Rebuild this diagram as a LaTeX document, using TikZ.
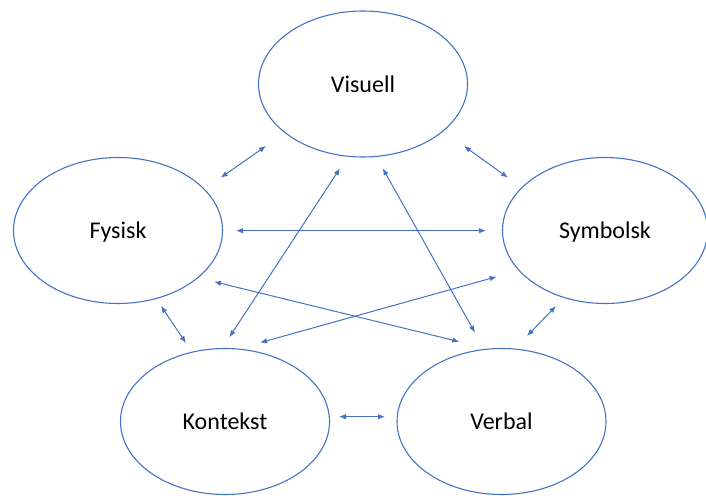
\documentclass[tikz,border=0pt]{standalone}
\usepackage{fontspec}
\setmainfont{Carlito}
\usetikzlibrary{arrows.meta,shapes.geometric}
\definecolor{ln}{HTML}{4472C4}
\tikzset{
  mode/.style={draw=ln, line width=1.1pt, ellipse, minimum width=209pt, minimum height=146pt,
    inner sep=0pt, text height=16pt, text depth=0pt, font=\fontsize{24}{28}\selectfont},
  arr/.style={draw=ln, line width=1pt, {Latex[length=7pt,width=5.5pt]}-{Latex[length=7pt,width=5.5pt]}},
}
\begin{document}
\begin{tikzpicture}[x=1pt,y=-1pt]
\useasboundingbox (0,0) rectangle (706,495);
\node[mode] (vis) at (363,84) {Visuell};
\node[mode] (fys) at (118,230.5) {Fysisk};
\node[mode, minimum width=205pt] (sym) at (605,230.5) {Symbolsk};
\node[mode] (kon) at (225,421.5) {Kontekst};
\node[mode] (ver) at (501.5,421.5) {Verbal};
% arrow end points
\coordinate (fv1) at (220.7,177.7); \coordinate (fv2) at (266,146);
\coordinate (vs1) at (464,146);     \coordinate (vs2) at (508,177.7);
\coordinate (kv1) at (229.3,337.3); \coordinate (kv2) at (340,168.3);
\coordinate (vb1) at (382.7,168.3); \coordinate (vb2) at (475,332.7);
\coordinate (fs1) at (236,230.7);   \coordinate (fs2) at (486,230.7);
\coordinate (fb1) at (214,281.7);   \coordinate (fb2) at (459.3,341.7);
\coordinate (sk1) at (496.7,276.7); \coordinate (sk2) at (260,342.7);
\coordinate (fk1) at (161,306);     \coordinate (fk2) at (186,343);
\coordinate (sb1) at (556,306);     \coordinate (sb2) at (527,336);
\coordinate (kb1) at (339,416.7);   \coordinate (kb2) at (385,416.7);
\draw[arr] (fv1) -- (fv2);
\draw[arr] (vs1) -- (vs2);
\draw[arr] (kv1) -- (kv2);
\draw[arr] (vb1) -- (vb2);
\draw[arr] (fs1) -- (fs2);
\draw[arr] (fb1) -- (fb2);
\draw[arr] (sk1) -- (sk2);
\draw[arr] (fk1) -- (fk2);
\draw[arr] (sb1) -- (sb2);
\draw[arr] (kb1) -- (kb2);
\end{tikzpicture}
\end{document}
